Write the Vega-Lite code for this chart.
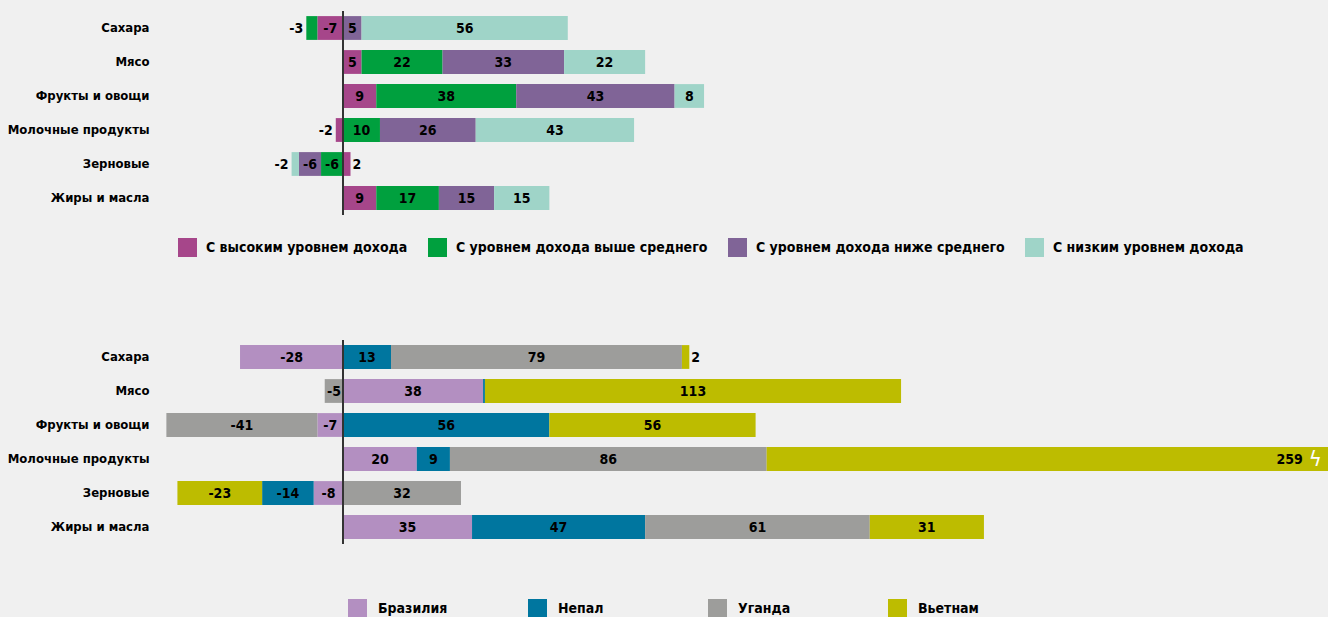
{
  "$schema": "https://vega.github.io/schema/vega-lite/v6.json",
  "background": "#f0f0f0",
  "padding": {"left": 7, "top": 10, "right": 0, "bottom": 0},
  "config": {
    "view": {"stroke": null},
    "font": "DejaVu Sans Condensed, DejaVu Sans, sans-serif",
    "axis": {"labelFont": "DejaVu Sans Condensed, DejaVu Sans, sans-serif"},
    "legend": {"labelFont": "DejaVu Sans Condensed, DejaVu Sans, sans-serif"}
  },
  "datasets": {
    "income": [
      {"food": "Сахара", "group": "С высоким уровнем дохода", "v": -7},
      {"food": "Сахара", "group": "С уровнем дохода выше среднего", "v": -3},
      {"food": "Сахара", "group": "С уровнем дохода ниже среднего", "v": 5},
      {"food": "Сахара", "group": "С низким уровнем дохода", "v": 56},
      {"food": "Мясо", "group": "С высоким уровнем дохода", "v": 5},
      {"food": "Мясо", "group": "С уровнем дохода выше среднего", "v": 22},
      {"food": "Мясо", "group": "С уровнем дохода ниже среднего", "v": 33},
      {"food": "Мясо", "group": "С низким уровнем дохода", "v": 22},
      {"food": "Фрукты и овощи", "group": "С высоким уровнем дохода", "v": 9},
      {"food": "Фрукты и овощи", "group": "С уровнем дохода выше среднего", "v": 38},
      {"food": "Фрукты и овощи", "group": "С уровнем дохода ниже среднего", "v": 43},
      {"food": "Фрукты и овощи", "group": "С низким уровнем дохода", "v": 8},
      {"food": "Молочные продукты", "group": "С высоким уровнем дохода", "v": -2},
      {"food": "Молочные продукты", "group": "С уровнем дохода выше среднего", "v": 10},
      {"food": "Молочные продукты", "group": "С уровнем дохода ниже среднего", "v": 26},
      {"food": "Молочные продукты", "group": "С низким уровнем дохода", "v": 43},
      {"food": "Зерновые", "group": "С высоким уровнем дохода", "v": 2},
      {"food": "Зерновые", "group": "С уровнем дохода выше среднего", "v": -6},
      {"food": "Зерновые", "group": "С уровнем дохода ниже среднего", "v": -6},
      {"food": "Зерновые", "group": "С низким уровнем дохода", "v": -2},
      {"food": "Жиры и масла", "group": "С высоким уровнем дохода", "v": 9},
      {"food": "Жиры и масла", "group": "С уровнем дохода выше среднего", "v": 17},
      {"food": "Жиры и масла", "group": "С уровнем дохода ниже среднего", "v": 15},
      {"food": "Жиры и масла", "group": "С низким уровнем дохода", "v": 15}
    ],
    "country": [
      {"food": "Сахара", "group": "Бразилия", "v": -28},
      {"food": "Сахара", "group": "Непал", "v": 13},
      {"food": "Сахара", "group": "Уганда", "v": 79},
      {"food": "Сахара", "group": "Вьетнам", "v": 2},
      {"food": "Мясо", "group": "Бразилия", "v": 38},
      {"food": "Мясо", "group": "Непал", "v": 0.5},
      {"food": "Мясо", "group": "Уганда", "v": -5},
      {"food": "Мясо", "group": "Вьетнам", "v": 113},
      {"food": "Фрукты и овощи", "group": "Бразилия", "v": -7},
      {"food": "Фрукты и овощи", "group": "Непал", "v": 56},
      {"food": "Фрукты и овощи", "group": "Уганда", "v": -41},
      {"food": "Фрукты и овощи", "group": "Вьетнам", "v": 56},
      {"food": "Молочные продукты", "group": "Бразилия", "v": 20},
      {"food": "Молочные продукты", "group": "Непал", "v": 9},
      {"food": "Молочные продукты", "group": "Уганда", "v": 86},
      {"food": "Молочные продукты", "group": "Вьетнам", "v": 259},
      {"food": "Зерновые", "group": "Бразилия", "v": -8},
      {"food": "Зерновые", "group": "Непал", "v": -14},
      {"food": "Зерновые", "group": "Уганда", "v": 32},
      {"food": "Зерновые", "group": "Вьетнам", "v": -23},
      {"food": "Жиры и масла", "group": "Бразилия", "v": 35},
      {"food": "Жиры и масла", "group": "Непал", "v": 47},
      {"food": "Жиры и масла", "group": "Уганда", "v": 61},
      {"food": "Жиры и масла", "group": "Вьетнам", "v": 31}
    ]
  },
  "spacing": 82,
  "resolve": {"scale": {"color": "independent"}, "legend": {"color": "independent"}},
  "vconcat": [
    {
      "width": 1163,
      "height": 204,
      "data": {"name": "income"},
      "transform": [
        {"stack": "v", "groupby": ["food"], "as": ["v0", "v1"]},
        {"calculate": "(datum.v0 + datum.v1) / 2", "as": "mid"}
      ],
      "encoding": {
        "y": {
          "field": "food", "type": "nominal", "sort": null,
          "scale": {"paddingInner": 0.3, "paddingOuter": 0.15},
          "axis": {"title": null, "domain": false, "ticks": false, "labelPadding": 17, "labelFontSize": 13, "labelFontWeight": "bold", "labelColor": "#000"}
        }
      },
      "layer": [
        {
          "mark": {"type": "bar", "clip": true},
          "encoding": {
            "x": {"field": "v0", "type": "quantitative", "scale": {"domain": [-48.1, 267.7], "nice": false, "zero": false}, "axis": null},
            "x2": {"field": "v1"},
            "color": {
              "field": "group", "type": "nominal",
              "scale": {"domain": ["С высоким уровнем дохода", "С уровнем дохода выше среднего", "С уровнем дохода ниже среднего", "С низким уровнем дохода"], "range": ["#a6468a", "#00a03e", "#806497", "#9fd4c8"]},
              "legend": {"title": null, "orient": "none", "legendX": 12, "legendY": 227, "direction": "horizontal", "columns": 4, "gridAlign": "each", "columnPadding": 20, "symbolType": "square", "symbolSize": 361, "symbolStrokeWidth": 0, "labelFontSize": 14, "labelFontWeight": "bold", "labelColor": "#000", "labelOffset": 9, "labelLimit": 500, "padding": 0}
            }
          }
        },
        {
          "mark": {"type": "rule", "color": "#333", "strokeWidth": 1},
          "encoding": {"x": {"datum": 0, "type": "quantitative"}, "y": null}
        },
        {
          "transform": [{"filter": "abs(datum.v) > 3"}],
          "mark": {"type": "text", "fontSize": 14, "fontWeight": "bold", "color": "#000", "align": "center", "baseline": "middle", "dy": 1},
          "encoding": {"x": {"field": "mid", "type": "quantitative"}, "text": {"field": "v", "type": "nominal"}}
        },
        {
          "transform": [{"filter": "datum.v >= 1 && datum.v <= 3"}],
          "mark": {"type": "text", "fontSize": 14, "fontWeight": "bold", "color": "#000", "align": "left", "baseline": "middle", "dx": 2, "dy": 1},
          "encoding": {"x": {"field": "v1", "type": "quantitative"}, "text": {"field": "v", "type": "nominal"}}
        },
        {
          "transform": [{"filter": "datum.v <= -1 && datum.v >= -3"}],
          "mark": {"type": "text", "fontSize": 14, "fontWeight": "bold", "color": "#000", "align": "right", "baseline": "middle", "dx": -3, "dy": 1},
          "encoding": {"x": {"field": "v1", "type": "quantitative"}, "text": {"field": "v", "type": "nominal"}}
        }
      ]
    },
    {
      "width": 1163,
      "height": 204,
      "data": {"name": "country"},
      "transform": [
        {"stack": "v", "groupby": ["food"], "as": ["v0", "v1"]},
        {"calculate": "datum.v1 > 267.7 ? 257 : (datum.v0 + datum.v1) / 2", "as": "mid"}
      ],
      "encoding": {
        "y": {
          "field": "food", "type": "nominal", "sort": null,
          "scale": {"paddingInner": 0.3, "paddingOuter": 0.15},
          "axis": {"title": null, "domain": false, "ticks": false, "labelPadding": 17, "labelFontSize": 13, "labelFontWeight": "bold", "labelColor": "#000"}
        }
      },
      "layer": [
        {
          "mark": {"type": "bar", "clip": true},
          "encoding": {
            "x": {"field": "v0", "type": "quantitative", "scale": {"domain": [-48.1, 267.7], "nice": false, "zero": false}, "axis": null},
            "x2": {"field": "v1"},
            "color": {
              "field": "group", "type": "nominal",
              "scale": {"domain": ["Бразилия", "Непал", "Уганда", "Вьетнам"], "range": ["#b38fc1", "#00769f", "#9d9d9b", "#bdbc00"]},
              "legend": {"title": null, "orient": "none", "legendX": 182, "legendY": 259, "direction": "horizontal", "columns": 4, "gridAlign": "all", "columnPadding": 80, "symbolType": "square", "symbolSize": 361, "symbolStrokeWidth": 0, "labelFontSize": 14, "labelFontWeight": "bold", "labelColor": "#000", "labelOffset": 11, "labelLimit": 500, "padding": 0}
            }
          }
        },
        {
          "mark": {"type": "rule", "color": "#333", "strokeWidth": 1},
          "encoding": {"x": {"datum": 0, "type": "quantitative"}, "y": null}
        },
        {
          "transform": [{"filter": "abs(datum.v) > 3"}],
          "mark": {"type": "text", "fontSize": 14, "fontWeight": "bold", "color": "#000", "align": "center", "baseline": "middle", "dy": 1},
          "encoding": {"x": {"field": "mid", "type": "quantitative"}, "text": {"field": "v", "type": "nominal"}}
        },
        {
          "transform": [{"filter": "datum.v >= 1 && datum.v <= 3"}],
          "mark": {"type": "text", "fontSize": 14, "fontWeight": "bold", "color": "#000", "align": "left", "baseline": "middle", "dx": 2, "dy": 1},
          "encoding": {"x": {"field": "v1", "type": "quantitative"}, "text": {"field": "v", "type": "nominal"}}
        },
        {
          "transform": [{"filter": "datum.v <= -1 && datum.v >= -3"}],
          "mark": {"type": "text", "fontSize": 14, "fontWeight": "bold", "color": "#000", "align": "right", "baseline": "middle", "dx": -3, "dy": 1},
          "encoding": {"x": {"field": "v1", "type": "quantitative"}, "text": {"field": "v", "type": "nominal"}}
        },
        {
          "transform": [{"filter": "datum.v1 > 267.7"}],
          "mark": {"type": "text", "fontSize": 22, "color": "#ffffff", "align": "center", "baseline": "middle", "text": "ϟ"},
          "encoding": {"x": {"datum": 264, "type": "quantitative"}}
        }
      ]
    }
  ]
}
